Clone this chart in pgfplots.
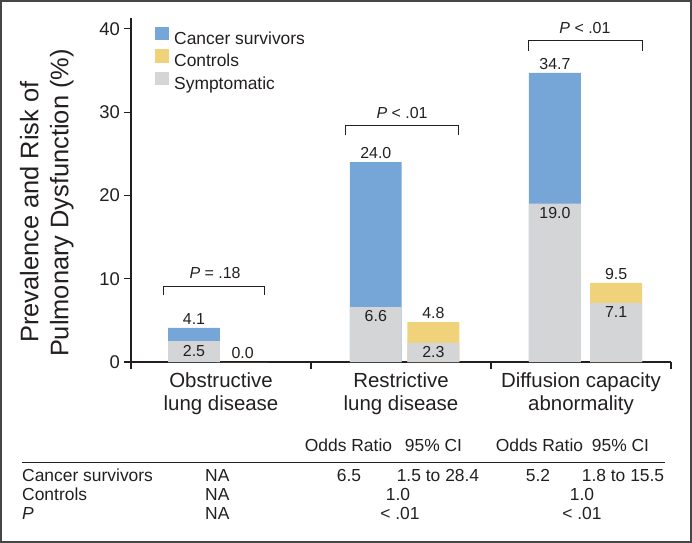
\documentclass[border=0pt]{standalone}
\usepackage{fontspec}
\setmainfont{Liberation Sans}
\usepackage{pgfplots}
\pgfplotsset{compat=1.18}
\definecolor{cblue}{RGB}{118,165,215}
\definecolor{cyel}{RGB}{240,210,122}
\definecolor{cgray}{RGB}{212,213,215}
\definecolor{ink}{RGB}{35,31,32}
\definecolor{frame}{RGB}{70,70,70}
\newcommand\tf{\fontsize{17.5}{21}\selectfont}
\newcommand\vf{\fontsize{16}{19}\selectfont}
\begin{document}
\begin{tikzpicture}
\begin{axis}[
  at={(0,0)}, anchor=south west,
  scale only axis, width=540bp, height=344bp,
  xmin=-0.5, xmax=2.5, ymin=0, ymax=41.3,
  axis lines=left, axis line style={-, line width=1.2bp, ink},
  tick align=outside, tick style={ink, line width=1.1bp},
  major tick length=7bp, minor tick length=7bp,
  ytick={0,10,20,30,40},
  xtick={0,1,2},
  xticklabels={Obstructive\\lung disease, Restrictive\\lung disease, Diffusion capacity\\abnormality},
  minor xtick={-0.5,0.5,1.5,2.5},
  major x tick style={draw=none},
  xticklabel style={align=center, font=\fontsize{20.5}{23.5}\selectfont, text=ink},
  yticklabel style={font=\fontsize{18.5}{22}\selectfont, text=ink, inner xsep=4bp},
  /pgf/number format/assume math mode=true,
  ylabel={Prevalence and Risk of\hspace*{18bp}\\Pulmonary Dysfunction (\%)},
  ylabel style={align=center, font=\fontsize{25.5}{30}\selectfont, text=ink,
    at={(axis description cs:-0.156,0.462)}, anchor=center},
  legend style={at={(axis description cs:0.0444,0.9753)}, anchor=north west,
    draw=none, fill=none, inner sep=0pt, row sep=1bp,
    font=\tf, text=ink,
    nodes={inner sep=0pt, text height=13bp, text depth=4bp}},
  legend cell align=left,
  legend image code/.code={\fill[#1] (0bp,-0.5bp) rectangle (14bp,13bp); \path (19bp,0bp);},
  nodes near coords={\pgfmathprintnumber[fixed,fixed zerofill,precision=1,assume math mode=true]{\pgfplotspointmeta}},
  every node near coord/.append style={font=\vf, text=ink, inner sep=3.5bp},
]
\addplot[ybar, bar width=0.288, bar shift=0pt, fill=cblue, draw=none,
  every node near coord/.append style={anchor=south}]
  coordinates {(-0.15,4.1) (0.86,24.0) (1.855,34.7)};
\addlegendentry{Cancer survivors}
\addplot[ybar, bar width=0.288, bar shift=0pt, fill=cyel, draw=none,
  every node near coord/.append style={anchor=south}]
  coordinates {(0.12,0.0) (1.18,4.8) (2.195,9.5)};
\addlegendentry{Controls}
\addplot[ybar, bar width=0.288, bar shift=0pt, fill=cgray, draw=none,
  every node near coord/.append style={anchor=north}]
  coordinates {(-0.15,2.5) (0.86,6.6) (1.855,19.0) (1.18,2.3) (2.195,7.1)};
\addlegendentry{Symptomatic}
% significance brackets
\draw[ink, line width=1bp] (axis cs:-0.322,8.0) |- (axis cs:0.239,9.1) -- (axis cs:0.239,8.0);
\draw[ink, line width=1bp] (axis cs:0.689,27.2) |- (axis cs:1.322,28.35) -- (axis cs:1.322,27.2);
\draw[ink, line width=1bp] (axis cs:1.711,37.35) |- (axis cs:2.339,38.56) -- (axis cs:2.339,37.35);
\node[font=\vf, text=ink] at (axis cs:-0.033,10.7) {\textit{P} = .18};
\node[font=\vf, text=ink] at (axis cs:1.006,29.9) {\textit{P} < .01};
\node[font=\vf, text=ink] at (axis cs:2.022,40.1) {\textit{P} < .01};
\end{axis}
% table below the chart
\draw[ink, line width=0.9bp] (-109bp,-100bp) -- (534bp,-100bp);
\begin{scope}[every node/.style={font=\tf, text=ink, inner sep=0pt}]
\node[anchor=base] at (217.5bp,-89bp) {Odds Ratio};
\node[anchor=base] at (302.5bp,-89bp) {95\% CI};
\node[anchor=base] at (408.5bp,-89bp) {Odds Ratio};
\node[anchor=base] at (489.5bp,-89bp) {95\% CI};
\node[anchor=base west] at (-109bp,-119bp) {Cancer survivors};
\node[anchor=base west] at (-109bp,-138bp) {Controls};
\node[anchor=base west] at (-109bp,-157bp) {\textit{P}};
\node[anchor=base west] at (74bp,-119bp) {NA};
\node[anchor=base west] at (74bp,-138bp) {NA};
\node[anchor=base west] at (74bp,-157bp) {NA};
\node[anchor=base] at (218bp,-119bp) {6.5};
\node[anchor=base] at (307bp,-119bp) {1.5 to 28.4};
\node[anchor=base] at (267bp,-138bp) {1.0};
\node[anchor=base] at (269bp,-157bp) {< .01};
\node[anchor=base] at (407bp,-119bp) {5.2};
\node[anchor=base] at (492bp,-119bp) {1.8 to 15.5};
\node[anchor=base] at (451bp,-138bp) {1.0};
\node[anchor=base] at (451bp,-157bp) {< .01};
\end{scope}
\draw[frame, line width=2bp] (-130bp,-180bp) rectangle (560bp,361bp);
\end{tikzpicture}
\end{document}
